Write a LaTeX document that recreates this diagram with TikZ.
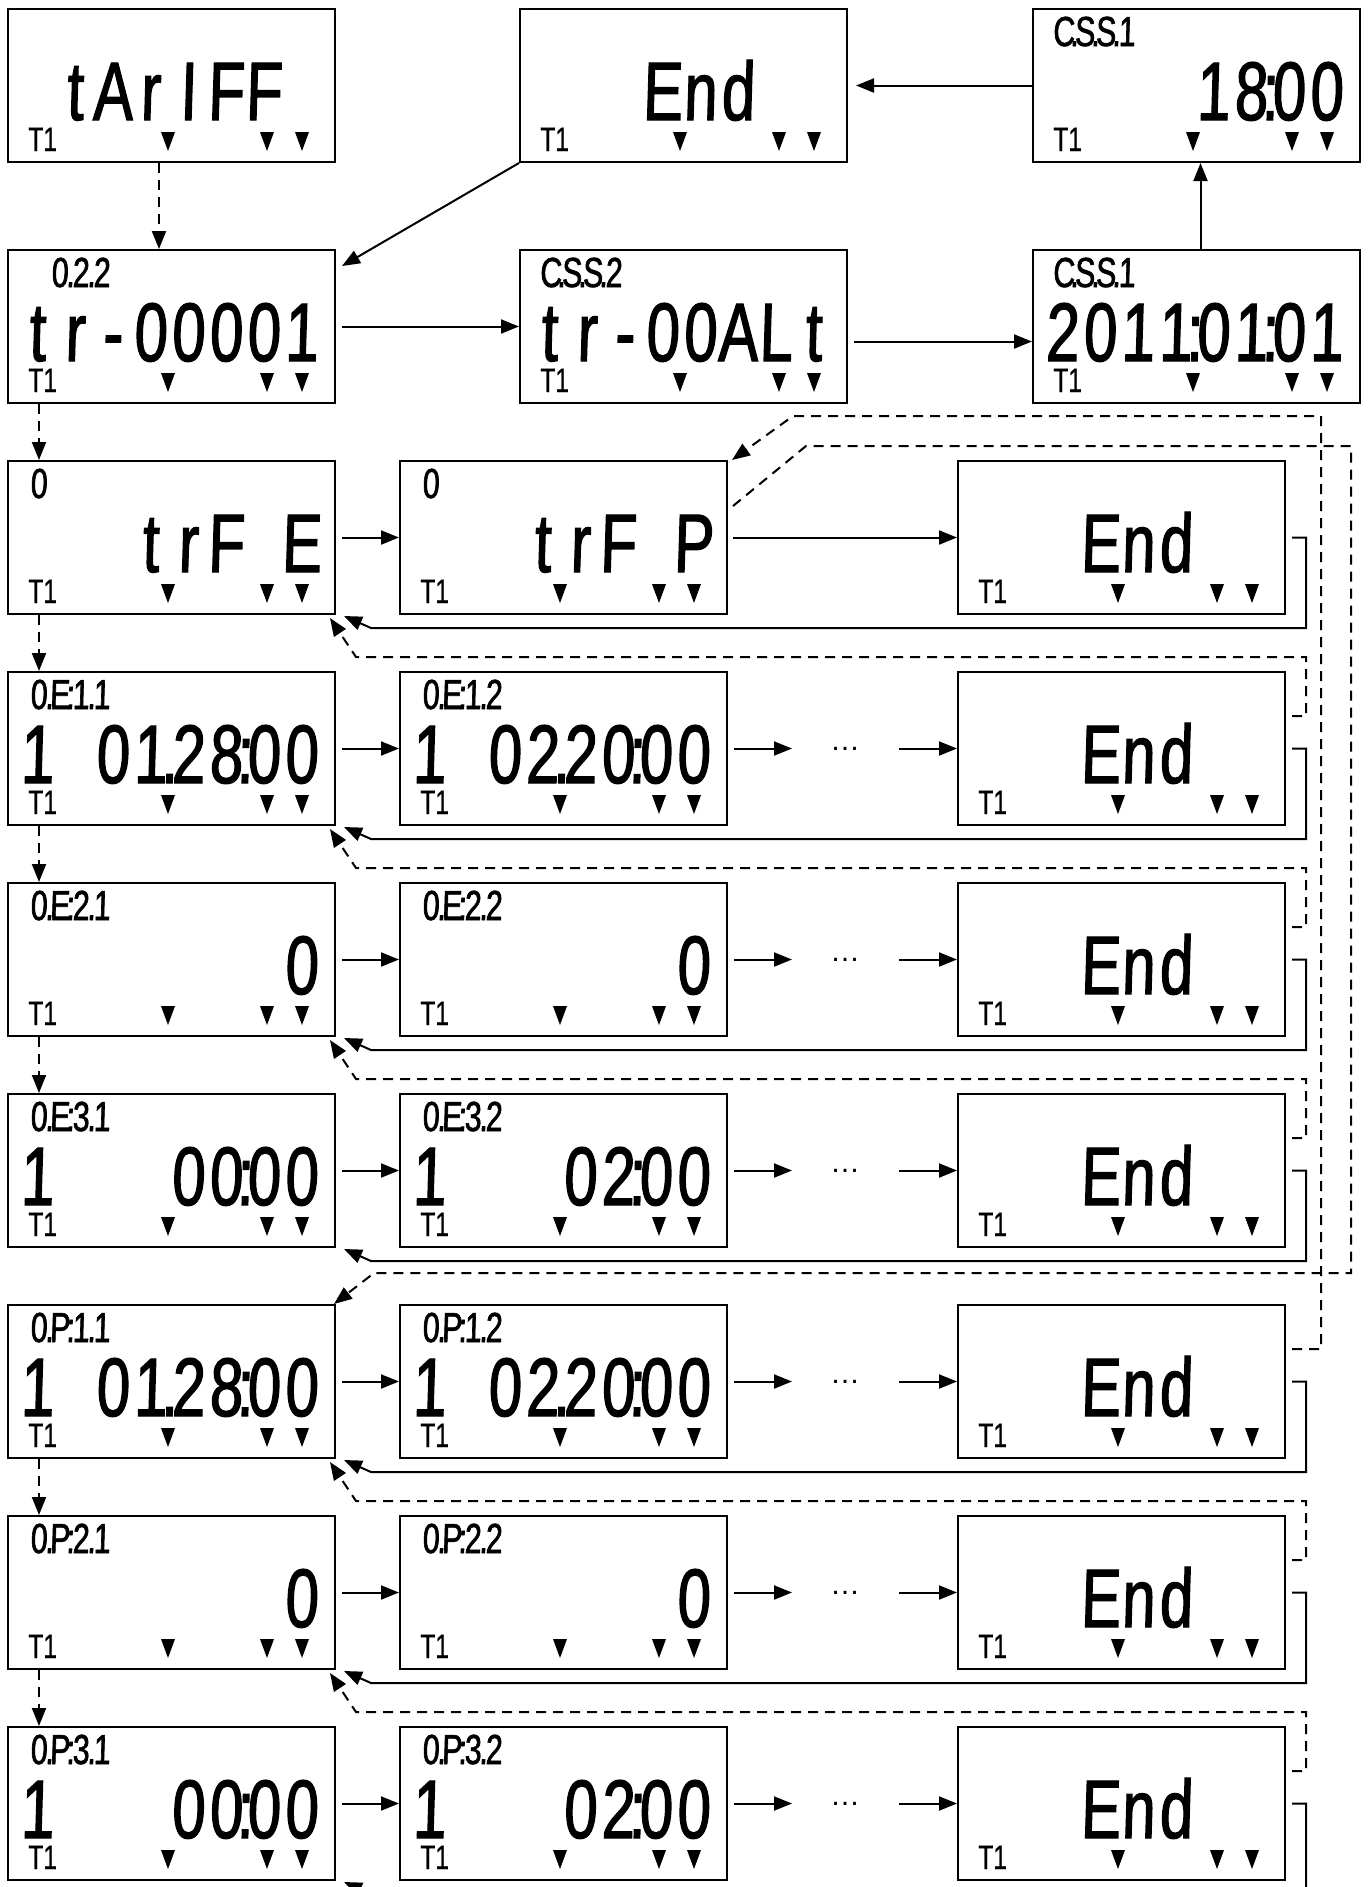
\documentclass[tikz,border=0pt]{standalone}
\usepackage{fontspec}
\setmainfont{Liberation Sans}
\newfontfamily\lcdfont[FakeStretch=0.72,FakeSlant=0.03,FakeBold=1.5]{Liberation Sans}
\newfontfamily\tonefont[FakeStretch=0.72,FakeBold=0.4]{Liberation Sans}
\usetikzlibrary{arrows.meta}
\makeatletter
\newlength\lcdw
\def\lcd@loop#1{\ifx\@nil#1\else\lcd@char{#1}\expandafter\lcd@loop\fi}
\def\lcd@char#1{\ifx.#1\makebox[0pt]{.}\else\ifx:#1\makebox[0pt]{:}\else\ifx*#1\hspace*{\lcdw}\else\makebox[\lcdw][c]{#1}\fi\fi\fi}
\newcommand\lcdstr[2]{\setlength\lcdw{#1}\lcd@loop#2\@nil}
\makeatother
\tikzset{
  panel/.style={draw, line width=1pt, minimum width=163.5pt, minimum height=76.5pt, inner sep=0pt, fill=white},
  lbl/.style={anchor=base west, inner sep=0pt, font=\lcdfont\fontsize{21}{21}\selectfont},
  big/.style={anchor=base west, inner sep=0pt, font=\lcdfont\fontsize{41.5}{41.5}\selectfont},
  tone/.style={anchor=base west, inner sep=0pt, font=\tonefont\fontsize{17}{17}\selectfont},
  dotsn/.style={inner sep=0pt, font=\fontsize{15}{15}\selectfont},
  arr/.style={-{Triangle[length=9pt,width=7pt]}, line width=1pt},
  dsh/.style={dash pattern=on 5pt off 3.5pt},
}
\newcommand\panel[5]{%
  \node[panel] (#1) at ({#2+163.5},{#3+76.5}) {};
  \if\relax\detokenize{#4}\relax\else
  \node[lbl] (#1l) at ({#2+20},{#3+37}) {\lcdstr{10.5pt}{#4}};
  \fi
  \node[big] (#1b) at ({#2+10},{#3+111}) {\lcdstr{18.875pt}{#5}};
  \node[tone] (#1t) at ({#2+20},{#3+142}) {T1};
  \foreach \dx in {160,259,294}{\fill ({#2+\dx-7},{#3+123}) -- ++(14,0) -- ++(-7,19) -- cycle;}%
}
\begin{document}
\begin{tikzpicture}[x=0.5pt,y=-0.5pt]
\useasboundingbox (0,0) rectangle (1369,1887);
\fill[white] (0,0) rectangle (1369,1887);
\panel{a0}{8}{9}{}{*tArIFF*}
\panel{e0}{520}{9}{}{***End**}
\panel{s0}{1033}{9}{C.S.S.1}{****18:00}
\panel{a1}{8}{250}{*0.2.2}{tr-00001}
\panel{b1}{520}{250}{C.S.S.2}{tr-00ALt}
\panel{c1}{1033}{250}{C.S.S.1}{2011:01:01}
\panel{a2}{8}{461}{0}{***trF*E}
\panel{b2}{400}{461}{0}{***trF*P}
\panel{c2}{958}{461}{}{***End**}
\panel{a3}{8}{672}{0.E:1.1}{1*01.28:00}
\panel{b3}{400}{672}{0.E:1.2}{1*02.20:00}
\panel{c3}{958}{672}{}{***End**}
\panel{a4}{8}{883}{0.E:2.1}{*******0}
\panel{b4}{400}{883}{0.E:2.2}{*******0}
\panel{c4}{958}{883}{}{***End**}
\panel{a5}{8}{1094}{0.E:3.1}{1***00:00}
\panel{b5}{400}{1094}{0.E:3.2}{1***02:00}
\panel{c5}{958}{1094}{}{***End**}
\panel{a6}{8}{1305}{0.P:1.1}{1*01.28:00}
\panel{b6}{400}{1305}{0.P:1.2}{1*02.20:00}
\panel{c6}{958}{1305}{}{***End**}
\panel{a7}{8}{1516}{0.P:2.1}{*******0}
\panel{b7}{400}{1516}{0.P:2.2}{*******0}
\panel{c7}{958}{1516}{}{***End**}
\panel{a8}{8}{1727}{0.P:3.1}{1***00:00}
\panel{b8}{400}{1727}{0.P:3.2}{1***02:00}
\panel{c8}{958}{1727}{}{***End**}
\foreach \k/\y in {3/672,4/883,5/1094,6/1305,7/1516,8/1727}{\node[dotsn] (d\k) at (845,{\y+76.5}) {…};}
% top part
\draw[arr,dsh] ([xshift=76pt]a0.south west) -- ([xshift=76pt]a1.north west);
\draw[arr] (e0.south west) -- ([shift={(3pt,-8.5pt)}]a1.north east);
\draw[arr] ([xshift=3pt]a1.east) -- (b1.west);
\draw[arr] ([shift={(3pt,-7.5pt)}]b1.east) -- ([yshift=-7.5pt]c1.west);
\draw[arr] ([xshift=2pt]c1.north) -- ([xshift=2pt]s0.south);
\draw[arr] (s0.west) -- ([xshift=4pt]e0.east);
\draw[arr,dsh] ([xshift=16pt]a1.south west) -- ([xshift=16pt]a2.north west);
\draw[arr] ([xshift=3pt]a2.east) -- (b2.west);
\draw[arr] ([xshift=2.5pt]b2.east) -- (c2.west);
% rows
\foreach \k in {3,...,8}{
  \draw[arr] ([xshift=3pt]a\k.east) -- (b\k.west);
  \draw[arr] ([xshift=3pt]b\k.east) -- ([xshift=-26.5pt]d\k.center);
  \draw[arr] ([xshift=27pt]d\k.center) -- (c\k.west);
}
\foreach \k in {2,...,8}{
  \draw[arr] ([xshift=3pt]c\k.east) -- ++(7pt,0) |- ([shift={(17.5pt,-6.5pt)}]a\k.south east) -- ([shift={(4pt,-0.5pt)}]a\k.south east);
}
\foreach \k/\p in {3/2,4/3,5/4,7/6,8/7}{
  \draw[arr,dsh] ([shift={(3pt,-22.5pt)}]c\k.north east) -- ++(7pt,0) |- ([shift={(10pt,7pt)}]a\k.north east) -- ([shift={(-3pt,-1.5pt)}]a\p.south east);
  \draw[arr,dsh] ([xshift=16pt]a\p.south west) -- ([xshift=16pt]a\k.north west);
}
\draw[arr,dsh] ([shift={(3pt,-22.5pt)}]c6.north east) -- ++(14.5pt,0) |- ([shift={(32.5pt,22pt)}]b2.north east) -- ([shift={(2pt,0pt)}]b2.north east);
\draw[arr,dsh] ([shift={(2.5pt,-23pt)}]b2.north east) -- ([shift={(39pt,7pt)}]b2.north east) -| ([shift={(507.5pt,15.5pt)}]a6.north east) -- ([shift={(19pt,15.5pt)}]a6.north east) -- ([shift={(-1pt,0pt)}]a6.north east);
\end{tikzpicture}
\end{document}
